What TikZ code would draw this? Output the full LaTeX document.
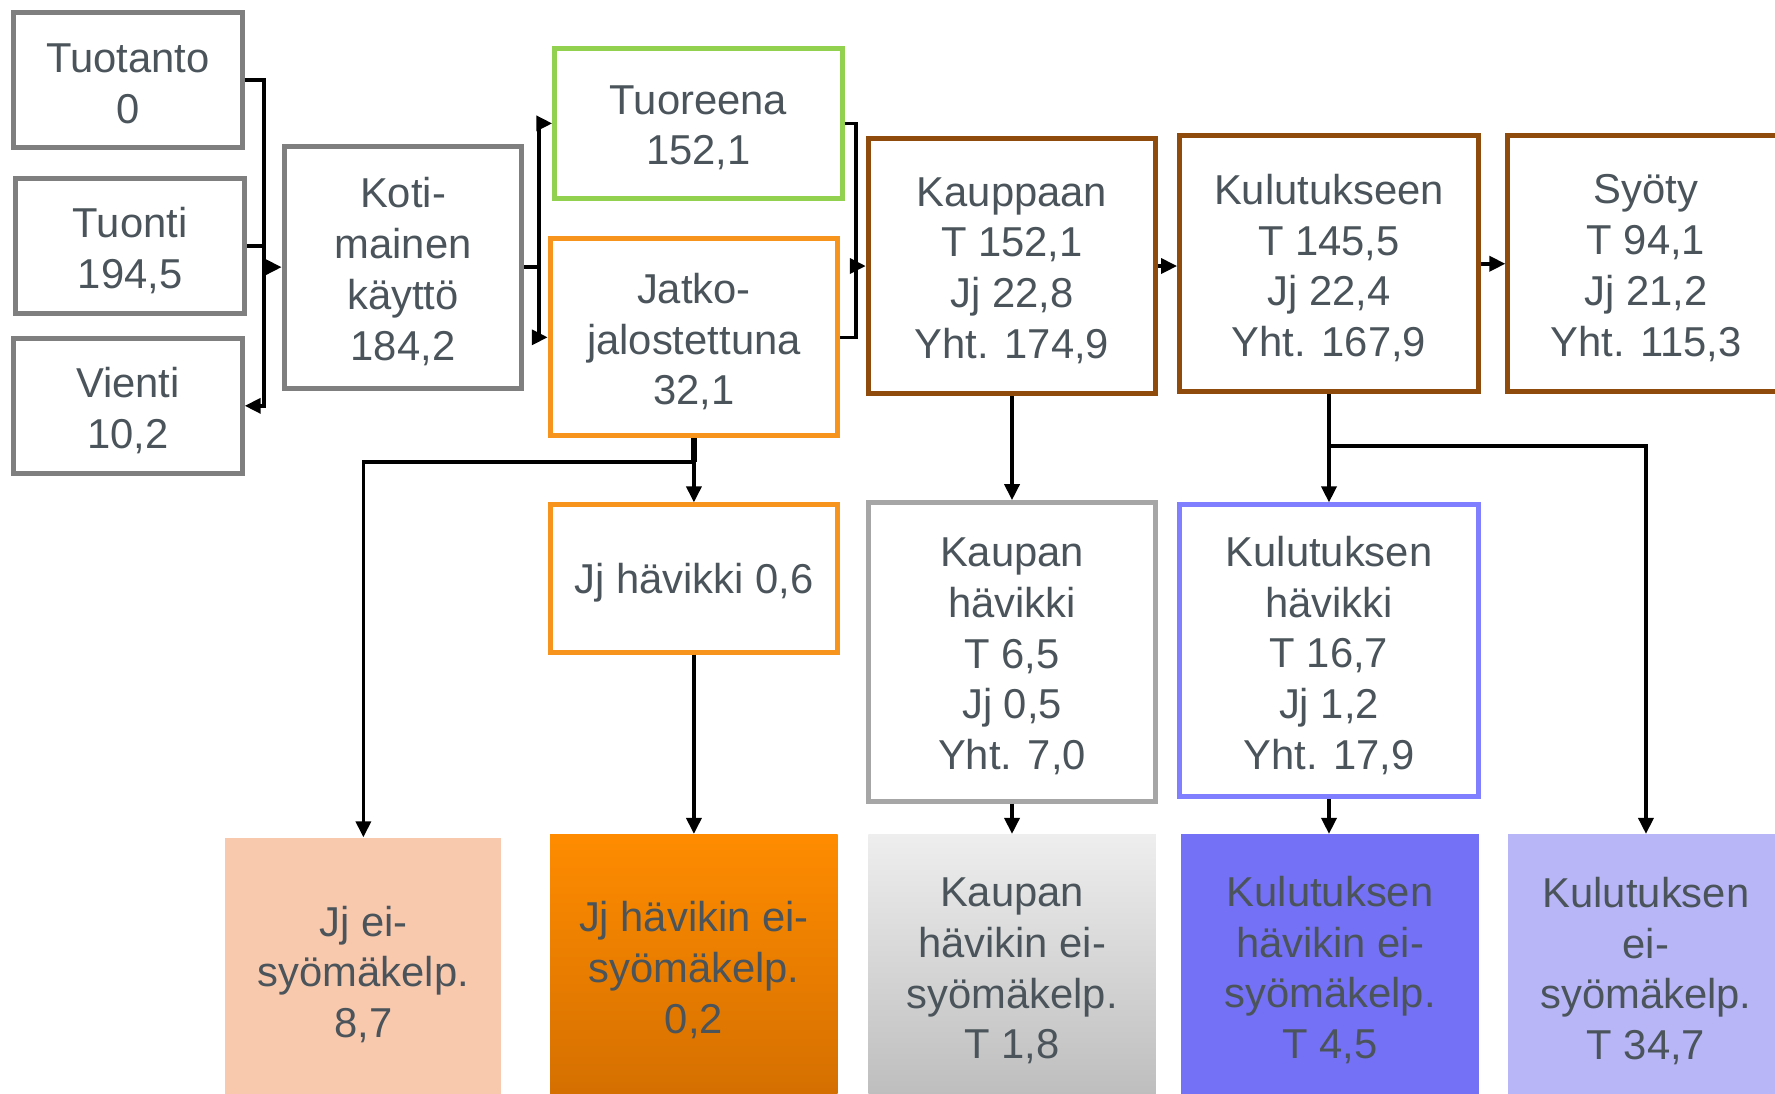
\documentclass[tikz,border=0pt]{standalone}
\usepackage{fontspec}
\setmainfont{Liberation Sans}
\usetikzlibrary{arrows.meta,shadings}
\definecolor{txtc}{HTML}{4A545A}
\definecolor{grayb}{HTML}{7F7F7F}
\definecolor{greenb}{HTML}{92D050}
\definecolor{orangeb}{HTML}{F7941D}
\definecolor{brownb}{HTML}{8E4B0B}
\definecolor{lgrayb}{HTML}{A6A6A6}
\definecolor{blueb}{HTML}{7F7FFF}
\definecolor{peach}{HTML}{F9C9AE}
\definecolor{orgtop}{HTML}{FF8C00}
\definecolor{orgbot}{HTML}{D46F00}
\definecolor{gtop}{HTML}{EEEEEE}
\definecolor{gbot}{HTML}{BDBDBD}
\definecolor{purp}{HTML}{7571F7}
\definecolor{lpurp}{HTML}{B9B6F8}
\newcommand\dtxt{\fontsize{21}{25.5}\selectfont}
\tikzset{
  lbl/.style={align=center, font=\dtxt, text=txtc, inner sep=0pt, yshift=-2.2pt},
  tx/.style={label={[lbl]center:{#1}}},
  box/.style={draw, line width=2.5pt, inner sep=0pt},
  fbox/.style={inner sep=0pt},
  wh/.style 2 args={minimum width=#1*0.02cm, minimum height=#2*0.02cm},
  ln/.style={line width=1.8pt, black},
  arr/.style={ln, -{Triangle[length=8pt,width=7.5pt]}},
}
\begin{document}
\begin{tikzpicture}[x=0.02cm,y=-0.02cm]
\useasboundingbox (0,0) rectangle (1568,966);
\clip (0,0) rectangle (1568,966);
% top row
\node[box, draw=grayb, wh={202}{119}, tx={Tuotanto\\0}] (tuotanto) at (113,70.5) {};
\node[box, draw=grayb, wh={202}{119}, tx={Tuonti\\194,5}] (tuonti) at (115,217.5) {};
\node[box, draw=grayb, wh={202}{119}, tx={Vienti\\10,2}] (vienti) at (113,358.5) {};
\node[box, draw=grayb, wh={210}{214}, tx={Koti-\\mainen\\käyttö\\184,2}] (koti) at (356,236) {};
\node[box, draw=greenb, wh={254}{132}, tx={Tuoreena\\152,1}] (tuoreena) at (617,109) {};
\node[box, draw=orangeb, wh={254}{174}, tx={Jatko-\\jalostettuna\\32,1}] (jatko) at (613,298) {};
\node[box, draw=brownb, wh={254}{226}, tx={Kauppaan\\T 152,1\\Jj 22,8\\Yht. 174,9}] (kauppaan) at (894,235) {};
\node[box, draw=brownb, wh={264}{226}, tx={Kulutukseen\\T 145,5\\Jj 22,4\\Yht. 167,9}] (kulut) at (1174,233) {};
\node[box, draw=brownb, wh={244}{226}, tx={Syöty\\T 94,1\\Jj 21,2\\Yht. 115,3}] (syoty) at (1454,233) {};
% middle row
\node[box, draw=orangeb, wh={254}{130}, tx={Jj hävikki 0,6}] (jjhav) at (613,511) {};
\node[box, draw=lgrayb, wh={254}{264}, tx={Kaupan\\hävikki\\T 6,5\\Jj 0,5\\Yht. 7,0}] (kauphav) at (894,576) {};
\node[box, draw=blueb, wh={264}{258}, tx={Kulutuksen\\hävikki\\T 16,7\\Jj 1,2\\Yht. 17,9}] (kulhav) at (1174,575) {};
% bottom row
\node[fbox, fill=peach, wh={244}{234}, tx={Jj ei-\\syömäkelp.\\8,7}] (jjei) at (321,857) {};
\node[fbox, top color=orgtop, bottom color=orgbot, wh={254}{232}, tx={Jj hävikin ei-\\syömäkelp.\\0,2}] (jjhavei) at (613,853) {};
\node[fbox, top color=gtop, bottom color=gbot, wh={254}{234}, tx={Kaupan\\hävikin ei-\\syömäkelp.\\T 1,8}] (kauphavei) at (894,854) {};
\node[fbox, fill=purp, wh={263}{232}, tx={Kulutuksen\\hävikin ei-\\syömäkelp.\\T 4,5}] (kulhavei) at (1175,853) {};
\node[fbox, fill=lpurp, wh={244}{234}, tx={Kulutuksen\\ei-\\syömäkelp.\\T 34,7}] (kulei) at (1454,854) {};
% junction coordinates
\coordinate (j1) at (233,0);
\coordinate (j2) at (476,0);
\coordinate (j3) at (756,0);
\coordinate (j4) at (613,408);
\coordinate (j5) at (1174,394);
% connectors
\draw[arr] (tuotanto.east) -- (tuotanto.east -| j1) -- (vienti.east -| j1) -- (vienti.east);
\draw[ln] (tuonti.east) -- (tuonti.east -| j1);
\draw[arr] (koti.west -| j1) -- (koti.west);
\draw[ln] (koti.east) -- (koti.east -| j2);
\draw[arr] (koti.east -| j2) |- (tuoreena.west);
\draw[arr] (koti.east -| j2) |- (jatko.west);
\draw[arr] (tuoreena.east) -| (j3 |- kauppaan.west) -- (kauppaan.west);
\draw[ln] (jatko.east) -| (j3 |- kauppaan.west);
\draw[arr] (kauppaan.east) -- (kauppaan.east -| kulut.west);
\draw[arr] (kulut.east) -- (kulut.east -| syoty.west);
\draw[line width=3pt] (jatko.south) -- (j4);
\draw[arr] (jatko.south) -- (jjhav.north);
\draw[arr] (j4) -| (jjei.north);
\draw[arr] (jjhav.south) -- (jjhavei.north);
\draw[arr] (kauppaan.south) -- (kauphav.north);
\draw[arr] (kauphav.south) -- (kauphavei.north);
\draw[arr] (kulut.south) -- (kulhav.north);
\draw[arr] (j5) -| (kulei.north);
\draw[arr] (kulhav.south) -- (kulhav.south |- kulhavei.north);
\end{tikzpicture}
\end{document}
